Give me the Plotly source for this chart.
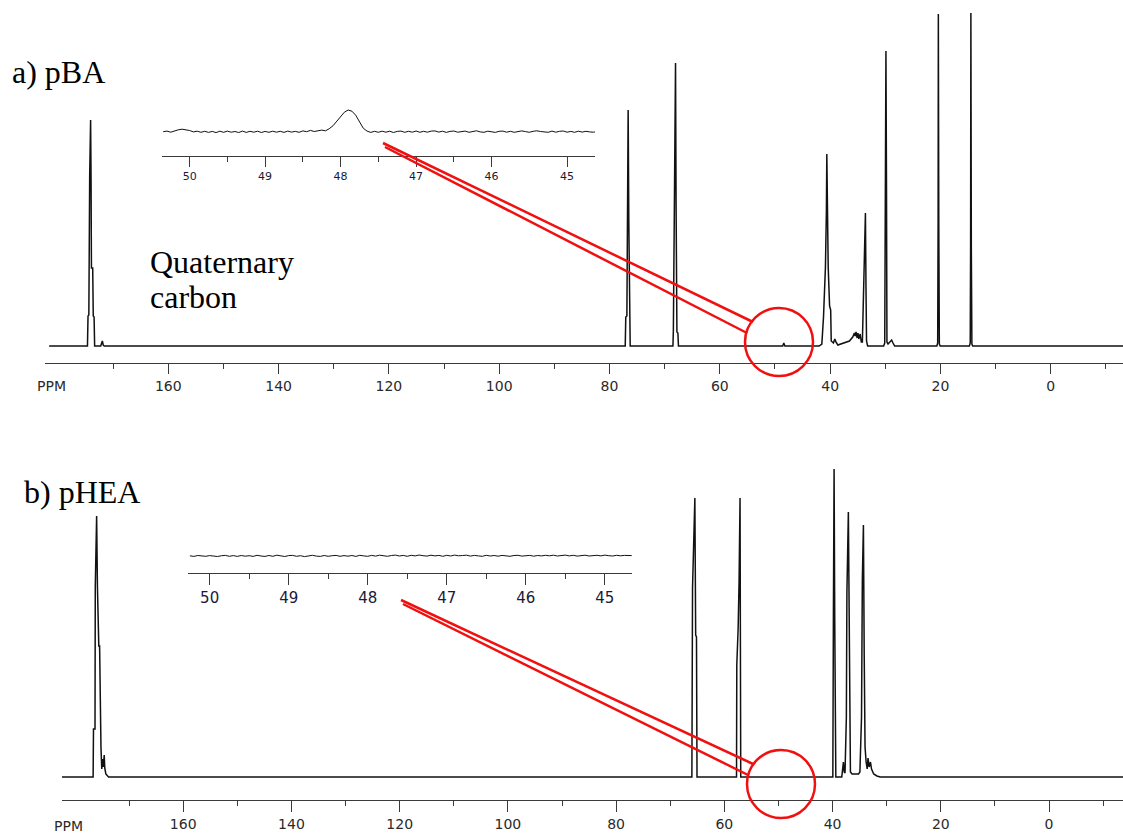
import numpy as np
import plotly.graph_objects as go

W, H = 1123, 833

# ---------------- 13C spectrum of pBA (ppm, intensity) ----------------
pba_ppm = [181.6,
           174.65, 174.55, 174.4, 174.25, 174.08, 174.0, 173.93, 173.7, 173.6, 173.45, 173.35,
           172.25, 172.1, 171.95, 171.8, 171.6,
           77.15, 77.05, 76.85, 76.75, 76.62, 76.5, 76.35, 76.25,
           68.5, 68.42, 68.33, 68.22, 68.03, 67.93, 67.78, 67.6, 67.5,
           48.6, 48.4, 48.2,
           42.0, 41.5, 41.2, 40.85, 40.75, 40.68, 40.6, 40.5, 40.35, 40.1, 39.9, 39.8, 39.4,
           39.15, 38.95, 38.6, 38.0, 37.3, 36.5, 35.9, 35.6, 35.45, 35.3, 35.1, 34.95, 34.8,
           34.55, 34.35,
           34.15, 34.0, 33.85, 33.6, 33.5, 33.4, 33.2,
           30.3, 30.1, 30.0, 29.88, 29.78, 29.7, 29.5, 29.1, 28.85, 28.6, 28.3,
           20.65, 20.5, 20.42, 20.38, 20.3, 20.2, 20.05,
           14.75, 14.6, 14.53, 14.48, 14.4, 14.3, 14.15,
           -13.1]
pba_int = [0,
           0, 30, 31, 170, 226, 168, 78, 78, 30, 29, 0,
           0, 4, 5, 1, 0,
           0, 29, 30, 124, 236, 124, 18, 0,
           0, 16, 78, 143, 283, 143, 14, 13, 0,
           0, 3, 0,
           0, 2, 29, 79, 98, 134, 192, 134, 79, 40, 36, 5, 3,
           7, 4, 1, 2, 3, 5, 9, 13, 10, 14, 8, 13, 7,
           12, 4,
           4, 40, 86, 133, 60, 5, 0,
           0, 3, 157, 295, 157, 4, 2, 4, 6, 3, 0,
           0, 3, 124, 332, 124, 2, 0,
           0, 3, 99, 333, 99, 2, 0,
           0]

# ---------------- 13C spectrum of pHEA (ppm, intensity) ----------------
phea_ppm = [182.4,
            176.65, 176.58, 176.3, 176.25, 176.0, 175.85, 175.75, 175.6, 175.45, 175.3, 175.2,
            175.05, 174.9, 174.75, 174.6, 174.5, 174.3, 173.8,
            66.0, 65.88, 65.72, 65.45, 65.3, 65.15, 65.05,
            57.75, 57.7, 57.45, 57.28, 57.1, 56.97,
            39.95, 39.85, 39.72, 39.6, 39.4,
            38.3, 38.1, 38.0, 37.85, 37.7, 37.45, 37.35, 37.08, 36.95, 36.8, 36.7, 36.4, 35.2,
            34.95, 34.65, 34.5, 34.3, 34.15, 34.0, 33.8, 33.6, 33.45, 33.25, 33.0, 32.8, 32.4,
            31.8, 31.2,
            -13.67]
phea_int = [0,
            0, 48, 48, 190, 261, 190, 170, 131, 131, 47, 30,
            8, 18, 10, 22, 9, 3, 0,
            0, 189, 230, 279, 142, 140, 0,
            0, 112, 149, 195, 279, 0,
            0, 158, 308, 158, 0,
            0, 10, 15, 5, 4, 60, 184, 265, 150, 40, 5, 3, 3,
            5, 60, 197, 252, 120, 30, 15, 8, 19, 10, 15, 8, 3,
            1, 0,
            0]

# ---------------- expanded 50-45 ppm windows ----------------
zoom_a_start, zoom_a_step = 50.35, 0.05
zoom_a_int = [0.0, 0.6, -0.5, 1.0, 1.9, 2.5, 2.0, 1.2, -0.2, 0.5,
              -0.6, 0.4, -0.7, 0.3, -0.9, 0.5, -0.6, 0.6, -0.5, 0.2,
              -0.8, 0.6, -0.7, 0.4, -0.5, 0.5, -0.8, 0.3, -0.6, 0.5,
              -0.5, 0.4, -0.7, 0.6, -0.4, 0.3, -0.6, 0.8, 0.0, 1.3,
              0.2, 1.0, 1.6, 0.9, 3.0, 6.0, 10.5, 16.0, 19.5, 21.7,
              20.5, 16.5, 9.5, 3.5, 0.6, -0.7, 0.4, -0.6, 0.5, -0.5,
              0.5, -0.8, 0.3, 0.6, -0.6, 0.4, -0.5, 0.7, -0.6, 0.4,
              -0.5, 0.6, 0.8, -0.4, 0.5, -0.7, 0.3, 0.7, -0.5, 0.3,
              0.6, -0.6, 0.5, 0.9, -0.2, -0.6, 0.5, -0.3, -0.7, 0.4,
              0.6, -0.5, 0.4, -0.6, 0.2, 0.8, 0.1, -0.6, 0.4, 0.9,
              0.2, -0.3, -0.6, 0.6, -0.5, 0.4, 0.7, -0.5, 0.3, -0.6,
              0.5, -0.4, 0.4, -0.2, -0.5, 0.3]
zoom_a_ppm = [round(zoom_a_start - zoom_a_step * i, 2) for i in range(len(zoom_a_int))]

zoom_b_start, zoom_b_step = 50.25, 0.05
zoom_b_int = [0.2, -0.4, 0.5, 0.0, -0.3, 0.4, -0.2, -0.5, 0.3, 0.6,
              -0.3, 0.4, -0.4, 0.5, -0.2, 0.3, -0.4, 0.7, 0.0, -0.4,
              0.5, -0.3, 0.8, 0.1, -0.5, 0.4, 0.6, -0.3, 0.3, -0.6,
              0.4, 0.7, -0.1, -0.4, 0.5, -0.3, 0.3, 0.6, -0.3, 0.4,
              -0.2, 0.5, -0.4, 0.7, 0.1, -0.3, 0.6, -0.1, 0.8, 0.2,
              -0.3, 0.5, 0.9, 0.0, 0.6, -0.3, 0.7, 0.1, 1.0, 0.3,
              -0.1, 0.8, 0.1, 0.6, -0.3, 0.7, 0.0, 0.9, 0.2, 0.5,
              0.8, -0.1, 0.6, 0.1, -0.3, 0.7, 0.0, 0.5, -0.2, 0.6,
              0.2, -0.3, 0.5, 0.7, -0.1, 0.4, 0.6, -0.2, 0.5, 0.1,
              0.7, 0.2, 0.8, 0.0, 0.6, 0.9, 0.1, 0.7, -0.1, 0.6,
              0.8, 0.0, 0.5, 0.7, 0.1, 0.9, 0.3, 0.0, 0.7, 0.2,
              0.6, 0.8, 0.4]
zoom_b_ppm = [round(zoom_b_start - zoom_b_step * i, 2) for i in range(len(zoom_b_int))]

# tick labels
main_major = [160, 140, 120, 100, 80, 60, 40, 20, 0]
main_minor = [170, 150, 130, 110, 90, 70, 50, 30, 10, -10]
zoom_major = [50, 49, 48, 47, 46, 45]
zoom_a_minor = [49.5, 48.5, 47.5, 46.5]
zoom_b_minor = [49.5, 48.5, 47.5, 46.5, 45.5]


def fx(x):
    return x / W


def fy(y):
    return 1 - y / H


INK = "#111111"
AXIS = "#3a3a3a"
RED = "#f01010"

fig = go.Figure()
for xs, ys, xa, ya, lw in [(pba_ppm, pba_int, "x", "y", 1.5),
                           (phea_ppm, phea_int, "x2", "y2", 1.5),
                           (zoom_a_ppm, zoom_a_int, "x3", "y3", 1.0),
                           (zoom_b_ppm, zoom_b_int, "x4", "y4", 1.0)]:
    fig.add_trace(go.Scatter(x=xs, y=ys, mode="lines", xaxis=xa, yaxis=ya,
                             line=dict(color=INK, width=lw), hoverinfo="skip",
                             showlegend=False))


def xaxis_cfg(domain, rng, major, minor, font_size, ticklen, font_color, anchor):
    return dict(domain=domain, range=rng, anchor=anchor, showgrid=False, zeroline=False,
                showline=True, linecolor=AXIS, linewidth=1.3,
                ticks="outside", ticklen=ticklen, tickwidth=1.3, tickcolor=AXIS,
                tickmode="array", tickvals=major, ticktext=[str(v) for v in major],
                tickfont=dict(family="DejaVu Sans", size=font_size, color=font_color),
                minor=dict(tickmode="array", tickvals=minor, ticks="outside",
                           ticklen=5, tickwidth=1.3, tickcolor=AXIS),
                fixedrange=True)


hidden_y = dict(visible=False, fixedrange=True)

fig.update_layout(
    width=W, height=H, autosize=False,
    margin=dict(l=0, r=0, t=0, b=0),
    paper_bgcolor="white", plot_bgcolor="rgba(0,0,0,0)",
    showlegend=False,
    xaxis=xaxis_cfg([fx(45), 1], [182.35, -13.1], main_major, main_minor, 14, 10, "#2a2a2a", "y"),
    yaxis=dict(domain=[fy(363), 1], range=[-17, 346], **hidden_y),
    xaxis2=xaxis_cfg([fx(62), 1], [182.4, -13.67], main_major, main_minor, 14, 11, "#2a2a2a", "y2"),
    yaxis2=dict(domain=[fy(800), fy(440)], range=[-23, 337], **hidden_y),
    xaxis3=xaxis_cfg([fx(161.7), fx(595)], [50.37, 44.63], zoom_major, zoom_a_minor, 11, 10, "#1a1a33", "y3"),
    yaxis3=dict(domain=[fy(155.7), fy(95)], range=[-24, 36.7], **hidden_y),
    xaxis4=xaxis_cfg([fx(188.3), fx(631.7)], [50.27, 44.66], zoom_major, zoom_b_minor, 15, 11, "#1a1a3a", "y4"),
    yaxis4=dict(domain=[fy(572.7), fy(530)], range=[-16.7, 26], **hidden_y),
)

# pointer lines from the expanded windows to the circled region
pointers = [((383, 143), (753, 322)), ((385, 147), (747, 333)),
            ((401, 600), (753, 764)), ((403, 604), (748, 775))]
shapes = []
for (x0, y0), (x1, y1) in pointers:
    shapes.append(dict(type="line", xref="paper", yref="paper",
                       x0=fx(x0), y0=fy(y0), x1=fx(x1), y1=fy(y1),
                       line=dict(color=RED, width=2.5)))
for cx, cy, r in [(779, 342, 34), (781, 784, 34)]:
    shapes.append(dict(type="circle", xref="paper", yref="paper",
                       x0=fx(cx - r), x1=fx(cx + r), y0=fy(cy + r), y1=fy(cy - r),
                       line=dict(color=RED, width=2.5)))
fig.update_layout(shapes=shapes)

serif = dict(family="Liberation Serif, Times New Roman, serif", size=32, color="black")
sans = dict(family="DejaVu Sans", size=14, color="#2a2a2a")
labels = [("a) pBA", 10, 72, serif), ("Quaternary", 148, 262, serif), ("carbon", 148, 297, serif),
          ("b) pHEA", 22, 492, serif), ("PPM", 35, 386, sans), ("PPM", 52, 826, sans)]
fig.update_layout(annotations=[
    dict(text=t, x=fx(x), y=fy(y), xref="paper", yref="paper", xanchor="left",
         yanchor="middle", showarrow=False, font=f) for t, x, y, f in labels])

fig.write_html("out.html")
